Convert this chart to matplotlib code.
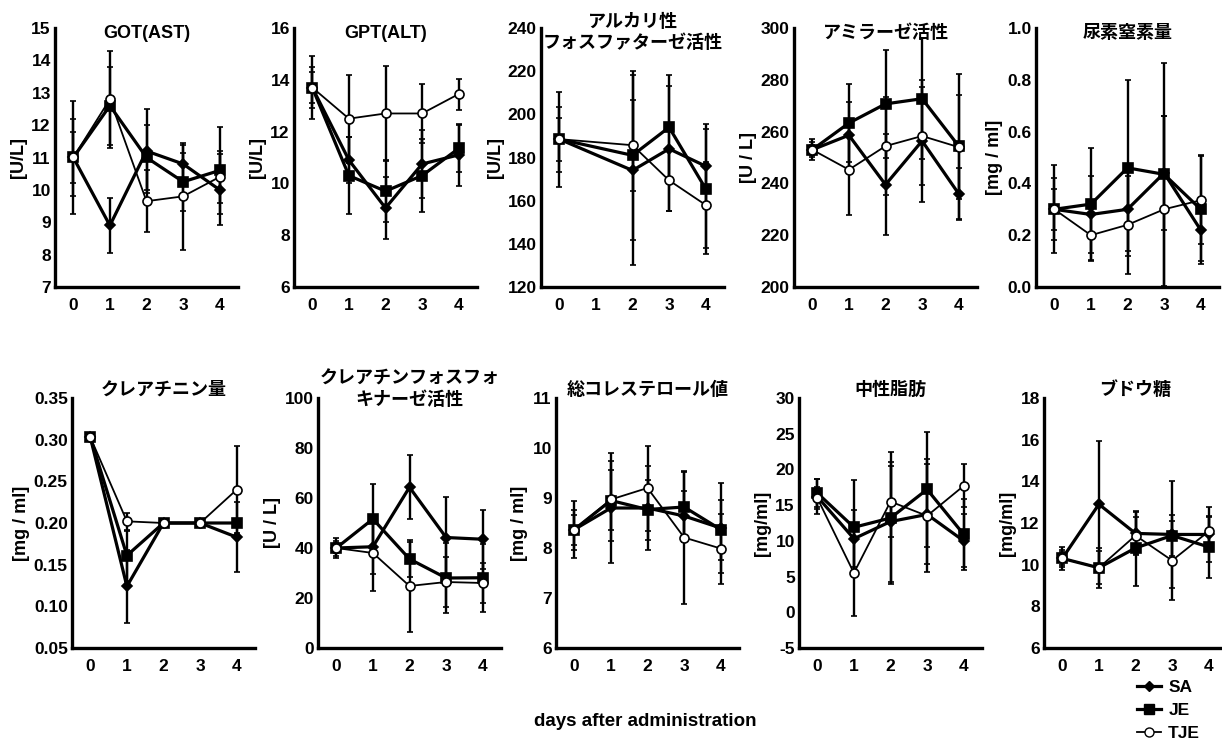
import matplotlib.pyplot as plt
import matplotlib.transforms as mtransforms
from matplotlib.lines import Line2D
import numpy as np

plt.rcParams['font.family'] = ['Liberation Sans', 'Noto Sans CJK JP', 'DejaVu Sans']
plt.rcParams['font.weight'] = 'bold'
plt.rcParams['axes.unicode_minus'] = False

days = [0, 1, 2, 3, 4]
alp_days = [0, 2, 3, 4]   # no day 1 sample for ALP
groups = ['SA', 'JE', 'TJE']

# rows: SA, JE, TJE
got_mean = [[11.0, 8.9, 11.2, 10.8, 10.0], [11.0, 12.6, 11.0, 10.25, 10.6], [11.0, 12.8, 9.65, 9.8, 10.4]]
got_sd = [[1.75, 0.85, 1.3, 0.6, 1.1], [1.2, 1.2, 1.0, 0.9, 1.35], [0.8, 1.5, 0.95, 1.65, 0.8]]

gpt_mean = [[13.7, 10.9, 9.05, 10.75, 11.1], [13.7, 10.3, 9.7, 10.3, 11.35], [13.7, 12.5, 12.7, 12.7, 13.45]]
gpt_sd = [[1.2, 0.9, 1.2, 1.3, 1.2], [0.8, 1.5, 1.2, 1.4, 0.9], [0.6, 1.7, 1.85, 1.15, 0.6]]

alp_mean = [[188.5, 174, 184, 176], [188.5, 181, 194, 165.5], [188.5, 185.7, 169.4, 158]]
alp_sd = [[22, 44, 29, 17], [15, 39, 24, 30], [10, 21, 14, 20]]

amy_mean = [[253, 258.6, 239.5, 256.4, 236], [253, 263.3, 270.7, 272.7, 254.4], [253, 245.3, 254.4, 258.3, 254]]
amy_sd = [[4, 13, 19.6, 23.4, 10], [3, 15, 20.8, 23.4, 28], [2, 17.5, 19, 19, 20]]

bun_mean = [[0.30, 0.28, 0.30, 0.44, 0.22], [0.30, 0.32, 0.46, 0.435, 0.30], [0.30, 0.20, 0.24, 0.30, 0.335]]
bun_sd = [[0.17, 0.15, 0.16, 0.22, 0.12], [0.12, 0.215, 0.34, 0.43, 0.21], [0.08, 0.10, 0.19, 0.36, 0.17]]

cre_mean = [[0.303, 0.124, 0.20, 0.20, 0.183], [0.303, 0.161, 0.20, 0.20, 0.20], [0.303, 0.202, 0.20, 0.20, 0.24]]
cre_sd = [[0, 0.044, 0, 0, 0.042], [0, 0.03, 0, 0, 0], [0, 0.01, 0, 0, 0.052]]

cpk_mean = [[40, 40.5, 64.3, 44.2, 43.5], [40, 51.6, 35.6, 28, 28.1], [40, 38, 24.8, 26.4, 26]]
cpk_sd = [[4, 11, 12.8, 16.2, 11.7], [3, 14, 7, 14, 13.5], [2, 15, 18.3, 10, 8]]

cho_mean = [[8.37, 8.8, 8.8, 8.64, 8.4], [8.37, 8.95, 8.77, 8.82, 8.37], [8.37, 8.97, 9.2, 8.21, 7.99]]
cho_sd = [[0.57, 1.1, 0.84, 0.5, 0.9], [0.4, 0.8, 0.6, 0.7, 0.6], [0.3, 0.6, 0.85, 1.33, 0.7]]

tg_mean = [[16.2, 10.3, 12.7, 13.7, 10.0], [16.7, 11.9, 13.2, 17.2, 10.9], [16.0, 5.5, 15.5, 13.5, 17.7]]
tg_sd = [[2.5, 4, 8.4, 7, 3.7], [2, 6.6, 9.2, 8, 5], [1.5, 6, 5, 7.9, 3]]

glu_mean = [[10.3, 12.9, 11.5, 11.45, 11.45], [10.3, 9.85, 10.8, 11.4, 10.85], [10.3, 9.85, 11.4, 10.2, 11.6]]
glu_sd = [[0.55, 3.05, 1.05, 2.55, 1.3], [0.4, 0.8, 1.8, 1.0, 1.5], [0.3, 0.95, 0.9, 1.9, 0.7]]

# title, ylabel, x, mean, sd, yticks, tick format
panels = [
    ('GOT(AST)', '[U/L]', days, got_mean, got_sd, np.arange(7, 16, 1), '%d'),
    ('GPT(ALT)', '[U/L]', days, gpt_mean, gpt_sd, np.arange(6, 17, 2), '%d'),
    ('アルカリ性\nフォスファターゼ活性', '[U/L]', alp_days, alp_mean, alp_sd, np.arange(120, 241, 20), '%d'),
    ('アミラーゼ活性', '[U / L]', days, amy_mean, amy_sd, np.arange(200, 301, 20), '%d'),
    ('尿素窒素量', '[mg / ml]', days, bun_mean, bun_sd, np.linspace(0, 1.0, 6), '%.1f'),
    ('クレアチニン量', '[mg / ml]', days, cre_mean, cre_sd, np.linspace(0.05, 0.35, 7), '%.2f'),
    ('クレアチンフォスフォ\nキナーゼ活性', '[U / L]', days, cpk_mean, cpk_sd, np.arange(0, 101, 20), '%d'),
    ('総コレステロール値', '[mg / ml]', days, cho_mean, cho_sd, np.arange(6, 12, 1), '%d'),
    ('中性脂肪', '[mg/ml]', days, tg_mean, tg_sd, np.arange(-5, 31, 5), '%d'),
    ('ブドウ糖', '[mg/ml]', days, glu_mean, glu_sd, np.arange(6, 19, 2), '%d'),
]

styles = [
    dict(marker='D', markersize=5.5, mfc='black', lw=2.3),
    dict(marker='s', markersize=7, mfc='black', lw=2.3),
    dict(marker='o', markersize=6.5, mfc='white', lw=1.3),
]

W, H = 1222, 743
fig = plt.figure(figsize=(W / 100, H / 100), dpi=100)

# pixel layout: left edges, top/bottom of each row, title centre
lefts = [[55, 294, 541, 794, 1036], [72, 318, 556, 799, 1044]]
rows = [(28, 287, 33), (398, 648, 390)]
ax_w = 183

for i, (title, ylab, x, mean, sd, yt, fmt) in enumerate(panels):
    r, c = divmod(i, 5)
    top, bot, ty = rows[r]
    left = lefts[r][c]
    ax = fig.add_axes([left / W, 1 - bot / H, ax_w / W, (bot - top) / H])

    for k in range(3):
        ax.errorbar(x, mean[k], yerr=sd[k], color='black', ecolor='black',
                    elinewidth=1.7, capsize=2, capthick=1.7, mec='black',
                    mew=1.2, zorder=3 + k, **styles[k])

    ax.set_xlim(-0.5, 4.5)
    ax.set_ylim(yt[0], yt[-1])
    ax.set_xticks(days)
    ax.set_yticks(yt)
    ax.set_yticklabels([fmt % v for v in yt])
    for s in ['top', 'right']:
        ax.spines[s].set_visible(False)
    for s in ['left', 'bottom']:
        ax.spines[s].set_linewidth(2.4)
    ax.tick_params(axis='both', labelsize=12.5, width=2, length=2, direction='inout')
    ax.tick_params(axis='x', pad=7)
    ax.tick_params(axis='y', pad=2)
    ax.set_ylabel(ylab, fontsize=13, fontweight='bold', labelpad=3)

    trans = mtransforms.blended_transform_factory(ax.transAxes, fig.transFigure)
    ax.text(0.5, 1 - ty / H, title, transform=trans, ha='center', va='center',
            fontsize=13, fontweight='bold', linespacing=1.3)

fig.text(645 / W, 1 - 721 / H, 'days after administration', ha='center', va='center',
         fontsize=13.5, fontweight='bold')

handles = [Line2D([], [], color='black', mec='black', **st) for st in styles]
fig.legend(handles, groups, loc='upper left', bbox_to_anchor=(1137 / W, 1 - 680 / H),
           frameon=False, fontsize=12.5, handlelength=1.4, handletextpad=0.4,
           labelspacing=0.45, borderpad=0, borderaxespad=0)

fig.savefig('out.png', dpi=100)
